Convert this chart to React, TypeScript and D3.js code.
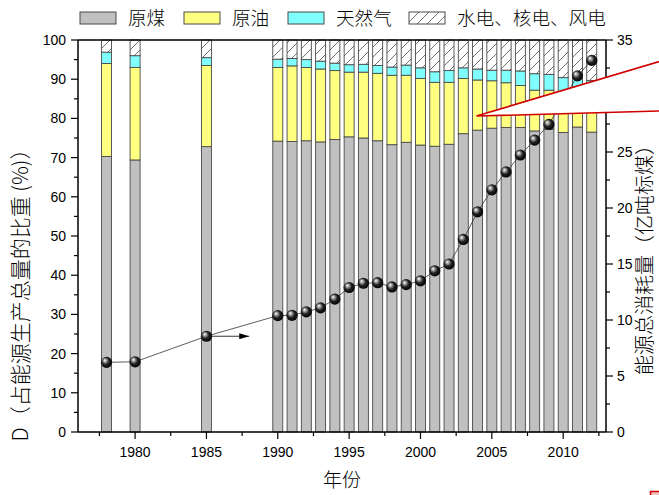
import React from 'react';
import * as d3 from 'd3';

// years shown on the chart
const years = [1978, 1980, 1985, 1990, 1991, 1992, 1993, 1994, 1995, 1996, 1997, 1998, 1999,
  2000, 2001, 2002, 2003, 2004, 2005, 2006, 2007, 2008, 2009, 2010, 2011, 2012];

// share of total energy production (%)
const coal = [70.3, 69.4, 72.8, 74.2, 74.1, 74.3, 74.0, 74.6, 75.3, 75.0, 74.3, 73.3, 73.9,
  73.2, 72.9, 73.4, 76.1, 77.0, 77.5, 77.7, 77.7, 76.8, 77.3, 76.4, 77.8, 76.5];
const oil = [23.7, 23.6, 20.7, 18.8, 19.3, 18.7, 18.6, 17.6, 16.5, 16.8, 17.2, 17.7, 17.1,
  17.0, 16.3, 15.8, 14.1, 12.8, 12.1, 11.4, 10.7, 10.4, 9.9, 9.6, 9.1, 8.9];
const gas = [2.9, 3.0, 2.0, 2.1, 1.9, 2.0, 2.0, 1.9, 1.9, 2.0, 2.0, 2.1, 2.6,
  2.7, 2.7, 3.0, 2.7, 2.8, 2.7, 3.2, 3.7, 4.2, 4.0, 4.4, 4.3, 4.3];
// hydro / nuclear / wind fills the rest up to 100
const hydro = years.map((_, i) => +(100 - coal[i] - oil[i] - gas[i]).toFixed(1));

// total energy (100 million tce), right axis
const total = [6.22, 6.27, 8.55, 10.39, 10.42, 10.73, 11.08, 11.87, 12.90, 13.28, 13.33, 12.95, 13.16,
  13.50, 14.39, 15.0, 17.19, 19.66, 21.62, 23.22, 24.73, 26.06, 27.46, 29.69, 31.80, 33.18];

const leftTicks = d3.range(0, 101, 10);
const rightTicks = d3.range(0, 36, 5);
const xTicks = d3.range(1980, 2011, 5);

const series = [
  { name: '原煤', values: coal, fill: '#c0c0c0' },
  { name: '原油', values: oil, fill: '#ffff80' },
  { name: '天然气', values: gas, fill: '#80ffff' },
  { name: '水电、核电、风电', values: hydro, fill: 'url(#hatch)' },
];

const W = 659, H = 495;
const margin = { top: 40, right: 53, bottom: 63, left: 78 };

const tickFont = '"Liberation Sans", Arial, sans-serif';
const cjkFont = '"Noto Sans CJK SC", sans-serif';

export default function App() {
  const x = d3.scaleLinear().domain([1976, 2013]).range([margin.left, W - margin.right]);
  const yL = d3.scaleLinear().domain([0, 100]).range([H - margin.bottom, margin.top]);
  const yR = d3.scaleLinear().domain([0, 35]).range([H - margin.bottom, margin.top]);
  const x0 = margin.left, x1 = W - margin.right, yb = H - margin.bottom, yt = margin.top;
  const bw = x(0.7) - x(0);

  // stack the shares
  const stacks = years.map((yr, i) => {
    let acc = 0;
    return series.map((s) => {
      const lo = acc;
      acc += s.values[i];
      return { yr, lo, hi: acc, fill: s.fill };
    });
  });

  const line = d3.line<number>().x((_, i) => x(years[i])).y((d) => yR(d));

  // callout wedge (annotation)
  const apex: [number, number] = [x(2003.92), yL(80.6)];
  const slopeUp = -0.298, slopeLo = -0.0274;
  const farX = 680;
  const callout = [
    apex,
    [farX, apex[1] + slopeUp * (farX - apex[0])],
    [farX, apex[1] + slopeLo * (farX - apex[0])],
  ];

  const legendX = [80, 184, 288, 409];

  return (
    <div style={{ position: 'absolute', left: 0, top: 0 }}>
      <svg width={W} height={H} style={{ display: 'block', background: '#fff' }}>
        <defs>
          <pattern id="hatch" patternUnits="userSpaceOnUse" width={10} height={10}>
            <rect width={10} height={10} fill="#fff" />
            <path d="M-2,2 L2,-2 M0,10 L10,0 M8,12 L12,8" stroke="#333" strokeWidth={0.7} />
          </pattern>
          <radialGradient id="ball" cx="0.45" cy="0.45" r="0.6" fx="0.33" fy="0.3">
            <stop offset="0" stopColor="#ffffff" />
            <stop offset="0.2" stopColor="#b0b0b0" />
            <stop offset="0.55" stopColor="#202020" />
            <stop offset="1" stopColor="#000" />
          </radialGradient>
          <marker id="arrow" viewBox="0 0 10 6" refX="10" refY="3" markerWidth="10" markerHeight="6"
            markerUnits="userSpaceOnUse" orient="auto">
            <path d="M0,0 L10,3 L0,6 Z" fill="#000" />
          </marker>
        </defs>

        {/* bars */}
        {stacks.map((st, i) => (
          <g key={years[i]}>
            {st.map((s, j) => (
              <rect key={j} x={x(s.yr) - bw / 2} y={yL(s.hi)} width={bw} height={yL(s.lo) - yL(s.hi)}
                fill={s.fill} stroke="#4a4a4a" strokeWidth={0.9} />
            ))}
          </g>
        ))}

        {/* frame */}
        <line x1={x0} x2={x1} y1={yt} y2={yt} stroke="#000" strokeWidth={1.5} />
        <line x1={x0} x2={x1} y1={yb} y2={yb} stroke="#000" strokeWidth={1.5} />
        <line x1={x0} x2={x0} y1={yt} y2={yb} stroke="#000" strokeWidth={1.5} />
        <line x1={x1} x2={x1} y1={yt} y2={yb} stroke="#000" strokeWidth={1.5} />

        {/* left axis */}
        {d3.range(0, 101, 5).map((v) => (
          <line key={'lt' + v} x1={x0} x2={x0 - (v % 10 === 0 ? 7 : 4)} y1={yL(v)} y2={yL(v)} stroke="#000" strokeWidth={1.2} />
        ))}
        {leftTicks.map((v) => (
          <text key={'ll' + v} x={x0 - 12} y={yL(v)} dy="0.36em" textAnchor="end"
            fontFamily={tickFont} fontSize={14}>{v}</text>
        ))}

        {/* right axis */}
        {d3.range(0, 35.1, 2.5).map((v) => (
          <line key={'rt' + v} x1={x1} x2={x1 + (v % 5 === 0 ? 7 : 4)} y1={yR(v)} y2={yR(v)} stroke="#000" strokeWidth={1.2} />
        ))}
        {rightTicks.map((v) => (
          <text key={'rl' + v} x={x1 + 11} y={yR(v)} dy="0.36em" textAnchor="start"
            fontFamily={tickFont} fontSize={14}>{v}</text>
        ))}

        {/* bottom axis */}
        {d3.range(1977.5, 2013, 2.5).map((v) => (
          <line key={'bt' + v} x1={x(v)} x2={x(v)} y1={yb} y2={yb + (v % 5 === 0 ? 7 : 4)} stroke="#000" strokeWidth={1.2} />
        ))}
        {xTicks.map((v) => (
          <text key={'bl' + v} x={x(v)} y={yb + 25} textAnchor="middle"
            fontFamily={tickFont} fontSize={14}>{v}</text>
        ))}

        {/* total energy line */}
        <path d={line(total) || ''} fill="none" stroke="#333" strokeWidth={0.8} />
        <line x1={x(1985)} y1={yR(total[2])} x2={x(1988)} y2={yR(total[2])} stroke="#000" strokeWidth={0.8}
          markerEnd="url(#arrow)" />
        {total.map((v, i) => (
          <circle key={'c' + i} cx={x(years[i])} cy={yR(v)} r={5.6} fill="url(#ball)" />
        ))}

        {/* callout */}
        <polygon points={callout.map((p) => p.join(',')).join(' ')} fill="#fff" stroke="#d00000" strokeWidth={1.6} />

        {/* axis titles */}
        <text x={(x0 + x1) / 2} y={487} textAnchor="middle" fontFamily={cjkFont} fontWeight={300} fontSize={19}>年份</text>
        <text transform={`translate(28,290) rotate(-90)`} textAnchor="middle"
          fontFamily={cjkFont} fontWeight={300} fontSize={21}>D（占能源生产总量的比重 (%)）</text>
        <text transform={`translate(652,255) rotate(-90)`} textAnchor="middle"
          fontFamily={cjkFont} fontWeight={300} fontSize={20}>能源总消耗量（亿吨标煤）</text>

        {/* legend */}
        {series.map((s, i) => (
          <g key={s.name} transform={`translate(${legendX[i]},12)`}>
            <rect width={36} height={12} fill={s.fill} stroke="#4a4a4a" strokeWidth={1} />
            <text x={48} y={6} dy="0.36em" fontFamily={cjkFont} fontWeight={300} fontSize={18.6}>{s.name}</text>
          </g>
        ))}

        {/* small red mark at corner */}
        <rect x={650.5} y={491.5} width={12} height={6} fill="#f4c0c0" stroke="#d00000" strokeWidth={1.5} />
      </svg>
    </div>
  );
}
